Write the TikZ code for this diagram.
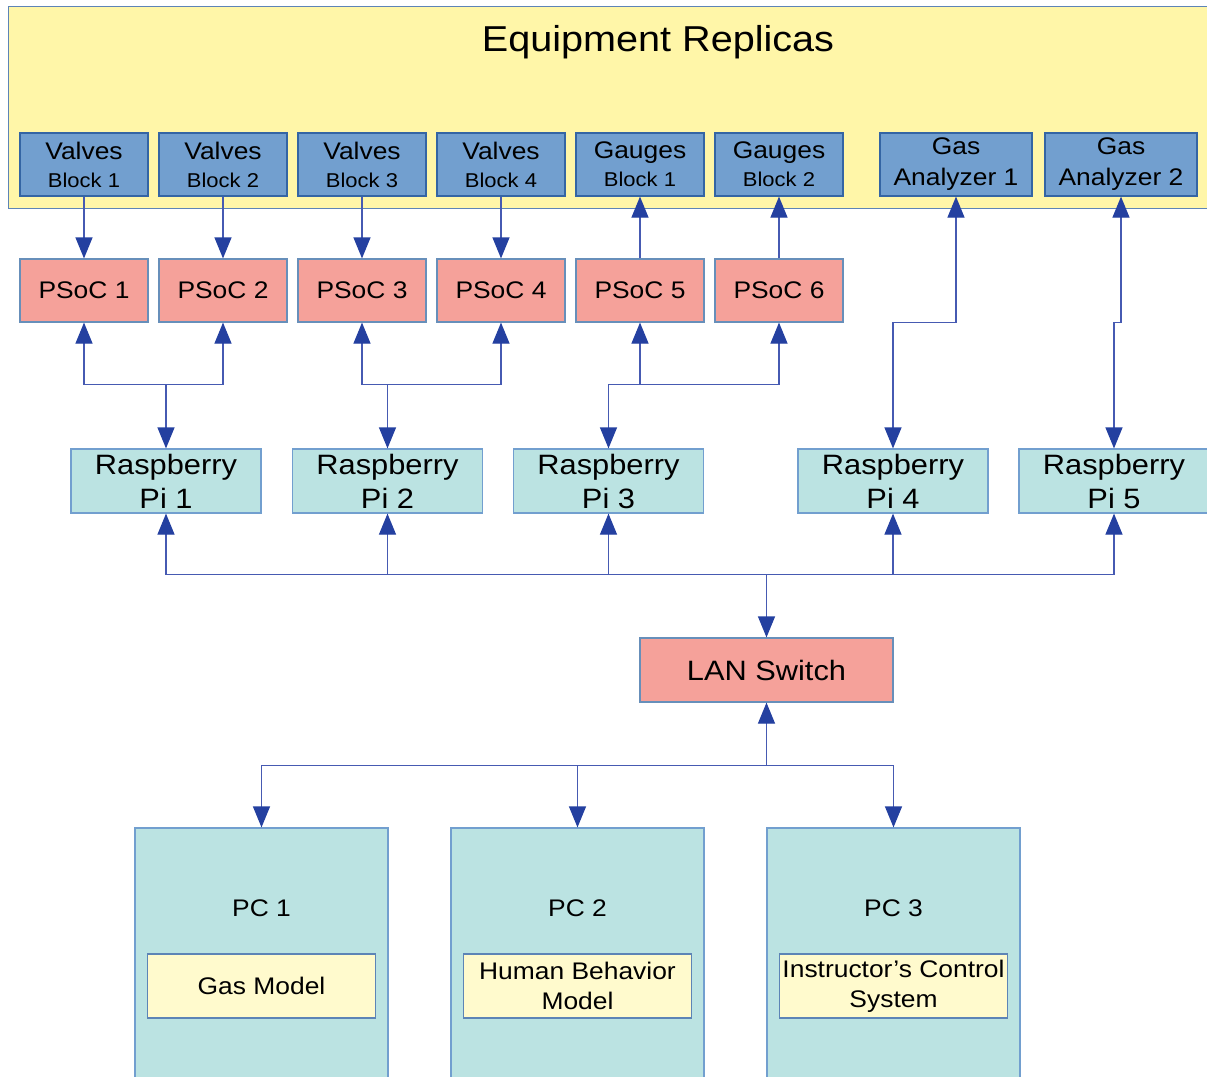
\documentclass[tikz,border=0pt]{standalone}
\usepackage{fontspec}
\setmainfont{Liberation Sans}[FakeStretch=1.1]
\usepackage{tikz}
\usetikzlibrary{arrows.meta,positioning,calc}
\definecolor{replica}{RGB}{255,246,168}
\definecolor{edgeblue}{RGB}{52,101,164}
\definecolor{devblue}{RGB}{114,159,207}
\definecolor{psocred}{RGB}{245,161,154}
\definecolor{pigreen}{RGB}{187,227,226}
\definecolor{modelyel}{RGB}{255,250,205}
\definecolor{wire}{RGB}{70,90,178}
\definecolor{tipblue}{RGB}{36,64,160}
\newcommand{\blockfont}{\fontsize{10}{14}\selectfont}
\tikzset{
  frame/.style={draw=edgeblue!80, line width=0.6pt, fill=replica, inner sep=0pt},
  title/.style={font=\fontsize{18}{20}\selectfont},
  dev/.style={draw=edgeblue, line width=0.6pt, fill=devblue, align=center, inner sep=0pt,
    minimum width=64pt, minimum height=31.5pt, font=\fontsize{12}{14}\selectfont},
  psoc/.style={draw=devblue!90!black, line width=0.6pt, fill=psocred, align=center, inner sep=0pt,
    minimum width=64pt, minimum height=31.5pt, font=\fontsize{12}{14}\selectfont},
  rpi/.style={draw=devblue, line width=0.6pt, fill=pigreen, align=center, inner sep=0pt,
    minimum width=95pt, minimum height=32pt, font=\fontsize{14}{17}\selectfont},
  pcbox/.style={draw=devblue, line width=0.6pt, fill=pigreen, inner sep=0pt,
    minimum width=126.5pt, minimum height=140pt},
  pclabel/.style={font=\fontsize{12}{14}\selectfont, inner sep=0pt},
  model/.style={draw=edgeblue!80, line width=0.6pt, fill=modelyel, align=center, inner sep=0pt,
    minimum width=114pt, minimum height=32pt, font=\fontsize{12}{15}\selectfont},
  link/.style={draw=wire, line width=0.6pt,
    >={Triangle[length=10.5pt,width=8.5pt,color=tipblue,fill=tipblue]}}
}
\begin{document}
\begin{tikzpicture}[x=0.5pt,y=-0.5pt]
  \useasboundingbox (0,0) rectangle (1207,1077);
  % equipment replicas
  \node[frame, anchor=north west, minimum width=605pt, minimum height=101pt] (eqp) at (8,6) {};
  \node[title] (eqtitle) at (658,42) {Equipment Replicas};
  \foreach \i in {1,...,4}
    \node[dev] (vb\i) at ({84+139*(\i-1)},164.5) {Valves\\{\blockfont Block \i}};
  \foreach \i in {1,2}
    \node[dev] (gb\i) at ({640+139*(\i-1)},164.5) {Gauges\\{\blockfont Block \i}};
  \foreach \i/\x in {1/956,2/1121}
    \node[dev, minimum width=76pt, font=\fontsize{12}{15.5}\selectfont] (ga\i) at (\x,164.5) {Gas\\Analyzer \i};
  % controllers
  \foreach \i in {1,...,6}
    \node[psoc] (ps\i) at ({84+139*(\i-1)},290.5) {PSoC \i};
  \foreach \i/\x in {1/166,2/387.5,3/608.5,4/893,5/1114}
    \node[rpi] (pi\i) at (\x,481) {Raspberry\\Pi \i};
  \node[psoc, minimum width=126.5pt, minimum height=32pt, font=\fontsize{14}{17}\selectfont] (lan) at (766.5,670) {LAN Switch};
  % PCs
  \foreach \i/\x/\m in {1/261.5/{Gas Model},2/577.5/{Human Behavior\\Model},3/893.5/{Instructor’s Control\\System}}{
    \node[pcbox] (pc\i) at (\x,968) {};
    \node[pclabel] (pcl\i) at (\x,908) {PC \i};
    \node[model] (mod\i) at (\x,986) {\m};
  }
  % connections
  \foreach \i in {1,...,4}
    \draw[link,->] (vb\i) -- (ps\i);
  \foreach \i/\j in {5/1,6/2}
    \draw[link,->] (ps\i) -- (gb\j);
  \foreach \p/\a/\b in {1/1/2,2/3/4,3/5/6}{
    \path (pi\p.north) ++(0,-64) coordinate (j\p);
    \draw[link,->] (j\p) -- (pi\p);
    \draw[link,->] (j\p) -| (ps\a);
    \draw[link,->] (j\p) -| (ps\b);
  }
  \draw[link,<->] (ga1.south) -- ++(0,126) -| (pi4.north);
  \draw[link,<->] (ga2.south) -- ++(0,126) -| (pi5.north);
  \path (lan.north) ++(0,-63) coordinate (pibus);
  \path (lan.south) ++(0,63) coordinate (pcbus);
  \draw[link,->] (pibus) -- (lan);
  \foreach \p in {1,...,5}
    \draw[link,->] (pibus) -| (pi\p);
  \draw[link,<-] (lan) -- (pcbus);
  \foreach \c in {1,2,3}
    \draw[link,->] (pcbus) -| (pc\c);
\end{tikzpicture}
\end{document}
